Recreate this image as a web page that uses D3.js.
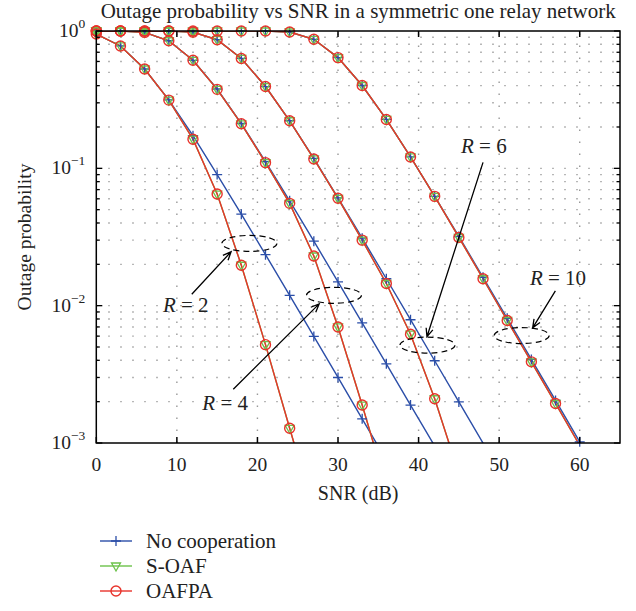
<!DOCTYPE html>
<html>
<head>
<meta charset="utf-8">
<script src="https://cdn.jsdelivr.net/npm/d3@7"></script>
<style>
  body { margin: 0; background: #fff; }
  svg { font-family: "Liberation Serif", "Times New Roman", serif; }
</style>
</head>
<body>
<div id="chart"></div>
<script>
// SNR grid (dB), one marker every 3 dB
var snrDb = [0, 3, 6, 9, 12, 15, 18, 21, 24, 27, 30, 33, 36, 39, 42, 45, 48, 51, 54, 57, 60, 63];

// outage probability
var noCoopR2 = [0.950, 0.778, 0.529, 0.315, 0.173, 0.090, 0.0464, 0.0235, 0.0119, 0.00597, 0.0030, 0.0015, 0.00075];
var oafpaR2  = [0.950, 0.778, 0.529, 0.314, 0.163, 0.065, 0.0197, 0.0052, 0.00128, 0.00032];

var noCoopR4 = [1.0, 0.9995, 0.977, 0.849, 0.612, 0.378, 0.212, 0.112, 0.0580, 0.0295, 0.0149, 0.0075, 0.00377, 0.00189, 0.00095];
var oafpaR4  = [1.0, 0.9995, 0.977, 0.849, 0.612, 0.376, 0.211, 0.110, 0.0556, 0.0230, 0.0070, 0.00189, 0.00048];

var noCoopR6 = [1.0, 1.0, 1.0, 0.9996, 0.981, 0.864, 0.631, 0.394, 0.222, 0.118, 0.061, 0.031, 0.0157, 0.0079, 0.00397, 0.00199, 0.000998, 0.0005];
var oafpaR6  = [1.0, 1.0, 1.0, 0.9996, 0.981, 0.864, 0.631, 0.394, 0.222, 0.117, 0.0605, 0.030, 0.0145, 0.0062, 0.0021, 0.0006];

var noCoopR10 = [1.0, 1.0, 1.0, 1.0, 1.0, 1.0, 1.0, 0.9997, 0.983, 0.870, 0.640, 0.401, 0.227, 0.121, 0.0625, 0.0319, 0.0161, 0.00809, 0.00406, 0.00204, 0.00102, 0.00051];
var oafpaR10  = [1.0, 1.0, 1.0, 1.0, 1.0, 1.0, 1.0, 0.9997, 0.983, 0.870, 0.640, 0.401, 0.227, 0.121, 0.0625, 0.0314, 0.0157, 0.0078, 0.0039, 0.00194, 0.00096, 0.00048];

// S-OAF lies on top of OAFPA everywhere in the figure
var soafR2 = oafpaR2, soafR4 = oafpaR4, soafR6 = oafpaR6, soafR10 = oafpaR10;

var xTicks = [0, 10, 20, 30, 40, 50, 60];
var yTicks = [1e-3, 1e-2, 1e-1, 1];
var yTickExp = ["\u22123", "\u22122", "\u22121", "0"];

var seriesNames = ["No cooperation", "S-OAF", "OAFPA"];
var seriesColors = ["#2b4ea8", "#6cc24a", "#e8332b"];

// annotation: label, ellipse centre, arrow tail -> head, text anchor (data units)
var notes = [
  {r: "2",  ex: 19.0, ey: 0.0284, x0: 11.85, y0: 0.0121, x1: 16.73, y1: 0.0247, tx: 11.1, ty: 0.0090},
  {r: "4",  ex: 29.5, ey: 0.0119, x0: 17.0,  y0: 0.00246, x1: 27.66, y1: 0.0103, tx: 16.0, ty: 0.00174},
  {r: "6",  ex: 41.1, ey: 0.00516, x0: 48.0, y0: 0.1106, x1: 41.04, y1: 0.00594, tx: 48.1, ty: 0.130},
  {r: "10", ex: 52.8, ey: 0.00606, x0: 56.98, y0: 0.0128, x1: 54.16, y1: 0.0069, tx: 57.3, ty: 0.0141}
];

var width = 636, height = 611;
var margin = {top: 31, right: 16, bottom: 168, left: 96.3};

var svg = d3.select("#chart").append("svg")
    .attr("width", width)
    .attr("height", height);

var x = d3.scaleLinear().domain([0, 65]).range([margin.left, width - margin.right]);
var y = d3.scaleLog().domain([1e-3, 1]).range([height - margin.bottom, margin.top]);

var x0 = x.range()[0], x1 = x.range()[1], yTop = y.range()[1], yBot = y.range()[0];

svg.append("defs").append("clipPath").attr("id", "clip")
  .append("rect").attr("x", x0).attr("y", yTop).attr("width", x1 - x0).attr("height", yBot - yTop);

// dotted grid
var minor = y.ticks();
var grid = svg.append("g").attr("stroke", "#999").attr("stroke-width", 1.4)
    .attr("stroke-dasharray", "1.4 10.6").attr("fill", "none");
grid.selectAll("line.h").data(minor.filter(function(d) { return d > 1e-3 && d < 1; }))
  .enter().append("line")
    .attr("x1", x0).attr("x2", x1)
    .attr("y1", function(d) { return y(d); }).attr("y2", function(d) { return y(d); });
grid.selectAll("line.v").data(xTicks.filter(function(d) { return d > 0; }))
  .enter().append("line")
    .attr("y1", yBot).attr("y2", yTop)
    .attr("x1", function(d) { return x(d); }).attr("x2", function(d) { return x(d); });

// curves
var curves = [
  [noCoopR2, soafR2, oafpaR2],
  [noCoopR4, soafR4, oafpaR4],
  [noCoopR6, soafR6, oafpaR6],
  [noCoopR10, soafR10, oafpaR10]
];

var line = d3.line()
    .x(function(d) { return x(d[0]); })
    .y(function(d) { return y(d[1]); });

var plot = svg.append("g").attr("clip-path", "url(#clip)");

function pts(vals) {
  return vals.map(function(v, i) { return [snrDb[i], v]; });
}

function marker(g, k, cx, cy) {
  var c = seriesColors[k];
  if (k == 0) {
    g.append("path").attr("d", "M" + (cx - 5) + "," + cy + "h10M" + cx + "," + (cy - 5) + "v10")
      .attr("stroke", c).attr("stroke-width", 1.3).attr("fill", "none");
  } else if (k == 1) {
    g.append("path").attr("d", "M" + (cx - 4.5) + "," + (cy - 3) + "L" + (cx + 4.5) + "," + (cy - 3) + "L" + cx + "," + (cy + 5) + "Z")
      .attr("stroke", c).attr("stroke-width", 1.3).attr("fill", "none");
  } else {
    g.append("circle").attr("cx", cx).attr("cy", cy).attr("r", 5)
      .attr("stroke", c).attr("stroke-width", 1.4).attr("fill", "none");
  }
}

[0, 1, 2].forEach(function(k) {
  curves.forEach(function(c) {
    var p = pts(c[k]);
    plot.append("path").datum(p)
      .attr("d", line)
      .attr("fill", "none")
      .attr("stroke", seriesColors[k])
      .attr("stroke-width", 1.4);
    var mg = svg.append("g");
    p.filter(function(d) { return d[1] >= 1e-3 && d[0] <= 65; }).forEach(function(d) {
      marker(mg, k, x(d[0]), y(d[1]));
    });
  });
});

// axes box and ticks
var ax = svg.append("g").attr("stroke", "#000").attr("fill", "none");
ax.append("rect").attr("x", x0).attr("y", yTop).attr("width", x1 - x0).attr("height", yBot - yTop)
  .attr("stroke-width", 1.5);
xTicks.forEach(function(t) {
  ax.append("line").attr("x1", x(t)).attr("x2", x(t)).attr("y1", yBot).attr("y2", yBot - 6).attr("stroke-width", 1.5);
  ax.append("line").attr("x1", x(t)).attr("x2", x(t)).attr("y1", yTop).attr("y2", yTop + 6).attr("stroke-width", 1.5);
});
minor.forEach(function(t) {
  var len = yTicks.indexOf(t) >= 0 ? 6 : 3.5;
  ax.append("line").attr("x1", x0).attr("x2", x0 + len).attr("y1", y(t)).attr("y2", y(t)).attr("stroke-width", 1.3);
  ax.append("line").attr("x1", x1).attr("x2", x1 - len).attr("y1", y(t)).attr("y2", y(t)).attr("stroke-width", 1.3);
});

// tick labels
var lab = svg.append("g").attr("fill", "#222").attr("font-size", 19.5);
xTicks.forEach(function(t) {
  lab.append("text").attr("x", x(t)).attr("y", yBot + 28).attr("text-anchor", "middle").text(t);
});
yTicks.forEach(function(t, i) {
  var tx = lab.append("text").attr("x", x0 - 11).attr("y", y(t) + 6).attr("text-anchor", "end");
  tx.append("tspan").text("10");
  tx.append("tspan").attr("dy", -9).attr("font-size", 13.5).text(yTickExp[i]);
});

// titles
svg.append("text").attr("x", (x0 + x1) / 2).attr("y", 18).attr("text-anchor", "middle")
  .attr("font-size", 21).attr("fill", "#222")
  .text("Outage probability vs SNR in a symmetric one relay network");
svg.append("text").attr("x", (x0 + x1) / 2).attr("y", yBot + 57).attr("text-anchor", "middle")
  .attr("font-size", 20).attr("fill", "#222").text("SNR (dB)");
svg.append("text").attr("transform", "translate(31," + ((yTop + yBot) / 2) + ") rotate(-90)")
  .attr("text-anchor", "middle").attr("font-size", 19.5).attr("fill", "#222").text("Outage probability");

// annotations
var an = svg.append("g");
notes.forEach(function(n) {
  an.append("ellipse").attr("cx", x(n.ex)).attr("cy", y(n.ey)).attr("rx", 27.5).attr("ry", 8)
    .attr("fill", "none").attr("stroke", "#000").attr("stroke-width", 1.2).attr("stroke-dasharray", "6 4");
  var ax0 = x(n.x0), ay0 = y(n.y0), ax1 = x(n.x1), ay1 = y(n.y1);
  var a = Math.atan2(ay1 - ay0, ax1 - ax0);
  var hl = 9, hw = 0.4;
  an.append("path")
    .attr("d", "M" + ax0 + "," + ay0 + "L" + ax1 + "," + ay1 +
      "M" + (ax1 - hl * Math.cos(a - hw)) + "," + (ay1 - hl * Math.sin(a - hw)) +
      "L" + ax1 + "," + ay1 +
      "L" + (ax1 - hl * Math.cos(a + hw)) + "," + (ay1 - hl * Math.sin(a + hw)))
    .attr("fill", "none").attr("stroke", "#000").attr("stroke-width", 1.3);
  var t = an.append("text").attr("x", x(n.tx)).attr("y", y(n.ty)).attr("text-anchor", "middle")
    .attr("font-size", 21).attr("fill", "#222").attr("xml:space", "preserve");
  t.append("tspan").attr("font-style", "italic").text("R");
  t.append("tspan").text(" = " + n.r);
});

// legend
var leg = svg.append("g").attr("font-size", 21).attr("fill", "#222");
seriesNames.forEach(function(s, k) {
  var ly = 541 + k * 25;
  leg.append("line").attr("x1", 100).attr("x2", 132).attr("y1", ly).attr("y2", ly)
    .attr("stroke", seriesColors[k]).attr("stroke-width", 1.4);
  marker(leg, k, 116, ly);
  leg.append("text").attr("x", 146).attr("y", ly + 6.5).text(s);
});
</script>
</body>
</html>
